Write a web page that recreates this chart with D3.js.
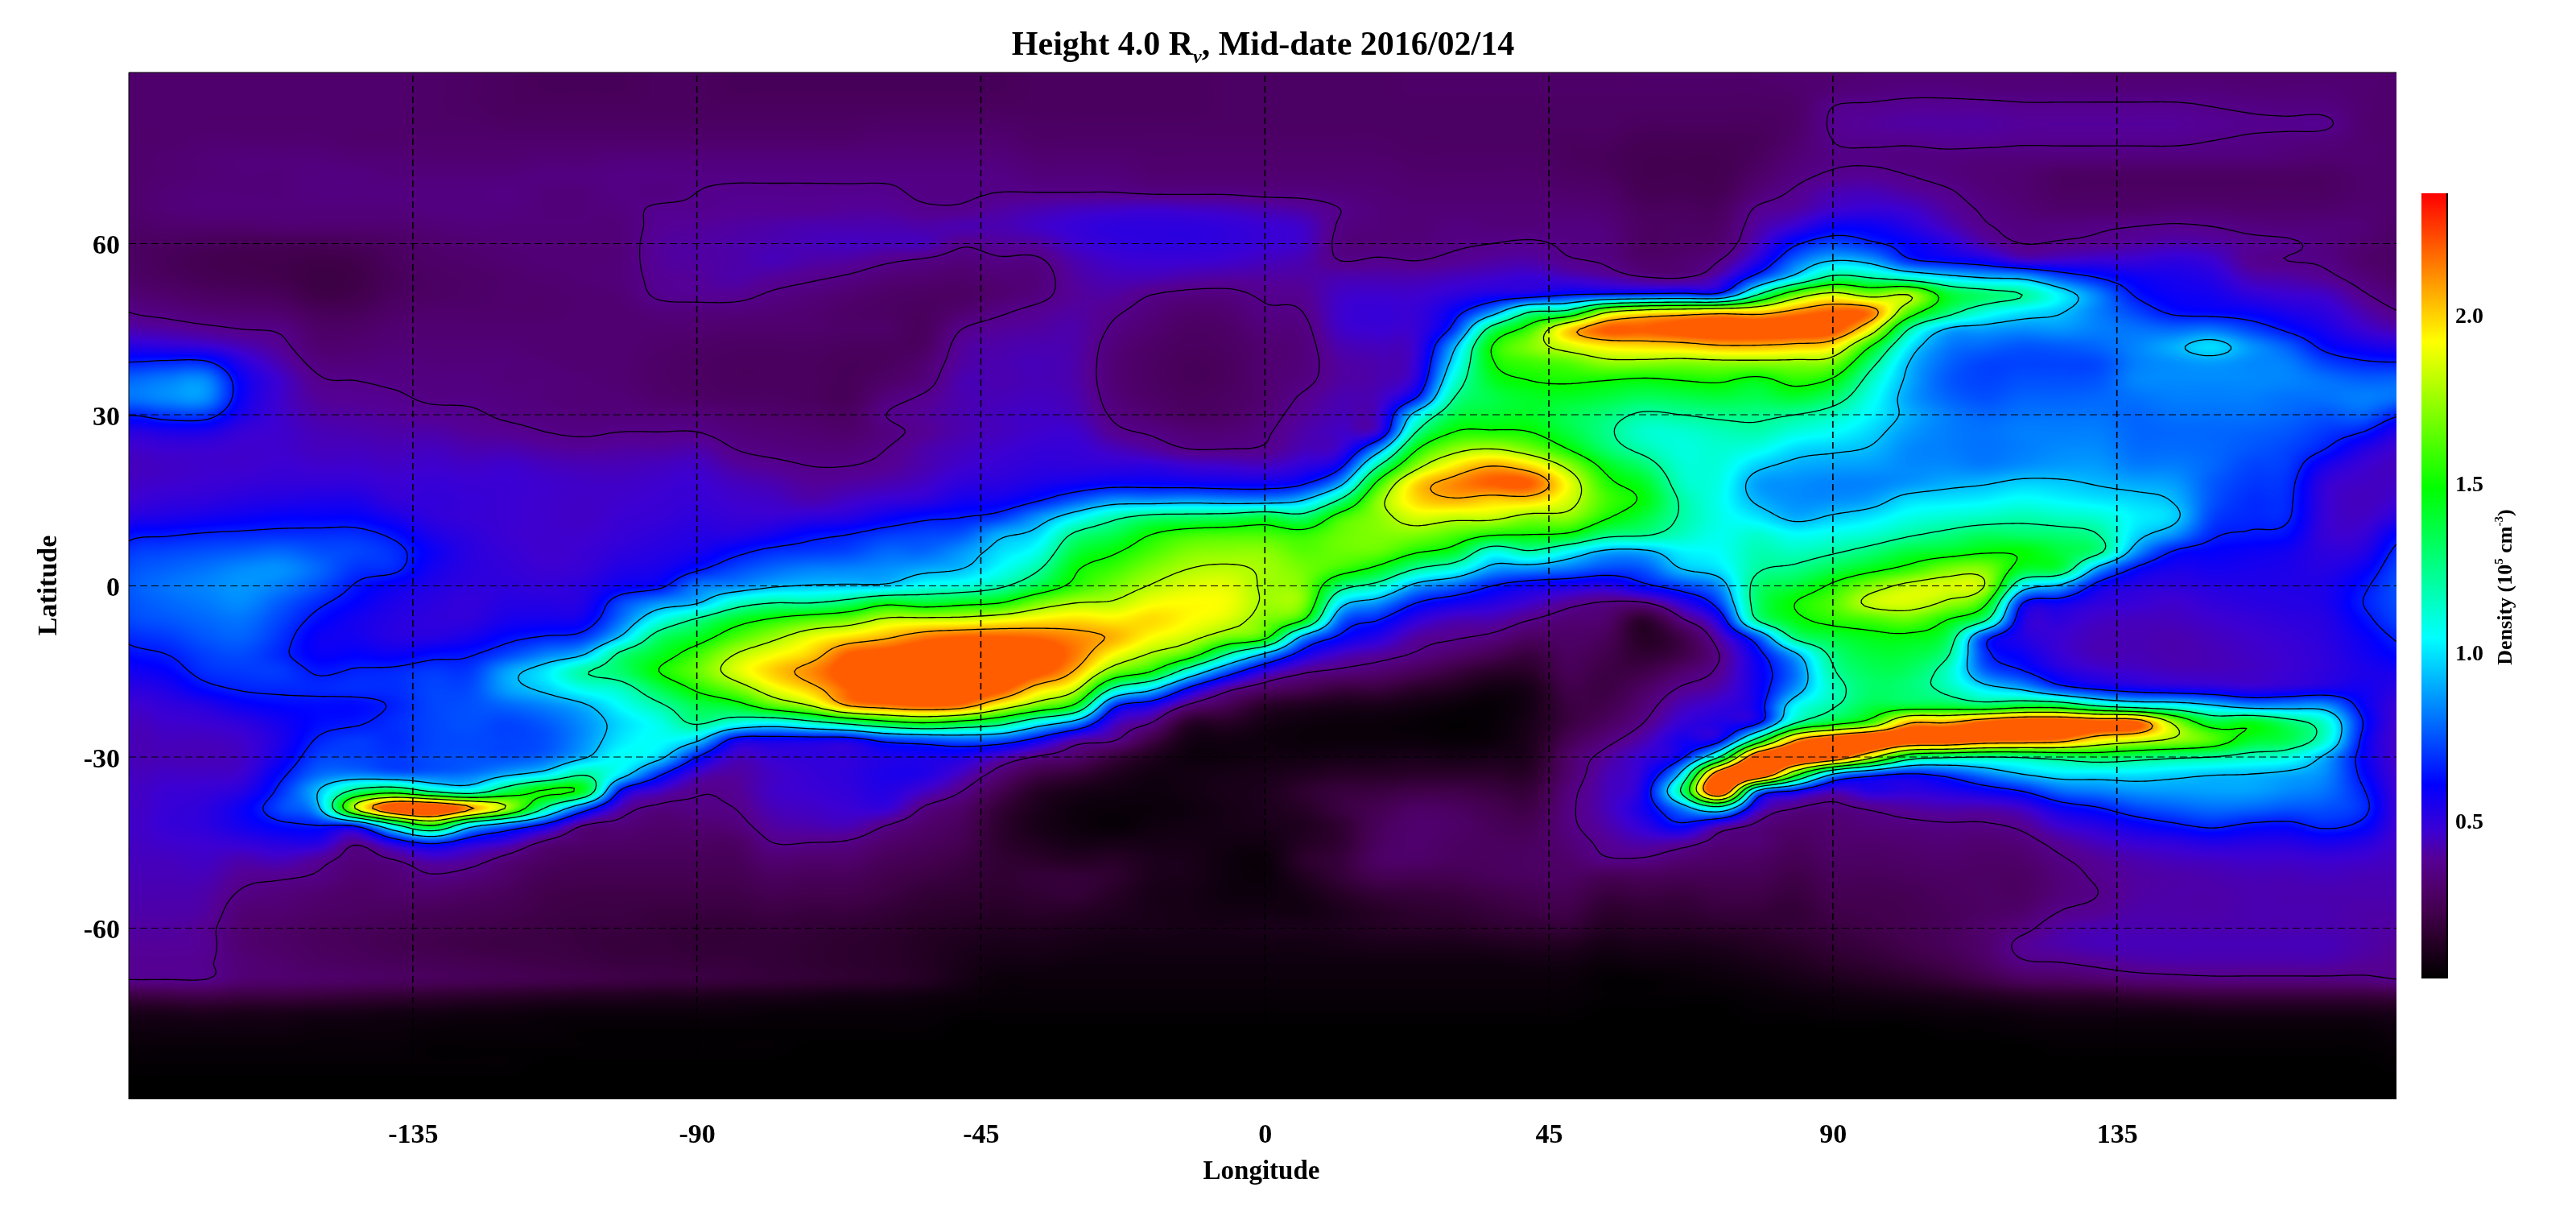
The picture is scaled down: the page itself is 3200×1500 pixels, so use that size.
<!DOCTYPE html>
<html>
<head>
<meta charset="utf-8">
<script src="https://cdn.jsdelivr.net/npm/d3@7"></script>
<style>
html,body{margin:0;padding:0;background:#fff;}
#wrap{position:relative;width:3200px;height:1500px;overflow:hidden;background:#fff;}
canvas,svg{position:absolute;left:0;top:0;}
text{font-family:"Liberation Serif",serif;font-weight:bold;fill:#000;}
</style>
</head>
<body>
<div id="wrap"><canvas id="heat"></canvas><svg id="chart" width="3200" height="1500"></svg></div>
<script>
// ---------- values ----------
const titleText = ["Height 4.0 R", "v", ", Mid-date 2016/02/14"];
const xAxisLabel = "Longitude";
const yAxisLabel = "Latitude";
const lonTicks = [-135,-90,-45,0,45,90,135];
const latTicks = [-60,-30,0,30,60];
const barTicks = [0.5,1.0,1.5,2.0];
const contourLevels = [0.36,0.65,0.93,1.22,1.50,1.78,2.07];
const barDomain = [0.03,2.36];
const imageCap = 2.2;
const colorValues = [0.03,0.145,0.226,0.305,0.385,0.467,0.605,1.04,1.484,1.92,2.36];
const colorNames = ["rgb(0,0,0)","rgb(40,0,40)","rgb(65,0,75)","rgb(80,0,110)","rgb(85,0,150)","rgb(60,0,210)","rgb(0,0,255)","rgb(0,255,255)","rgb(0,255,0)","rgb(255,255,0)","rgb(255,0,0)"];
const gridLonStart = -180, gridLonStep = 6, gridLatStart = 90, gridLatStep = -3;
// density x 100, one array per longitude (-180 to 180 by 6), each from latitude 90 down to -90 by 3
const densityColumns = [
[30,30,30,30,30,30,30,30,30,29,28,28,29,32,36,42,52,66,78,80,66,52,46,44,45,47,52,62,69,73,75,74,72,67,62,56,51,47,45,44,44,45,46,46,46,45,44,43,42,41,40,39,38,36,20,10,7,5,4,3,3],
[30,30,30,30,30,31,31,32,32,30,27,26,27,30,34,40,50,68,82,84,70,54,47,45,46,49,54,64,72,77,80,78,75,70,65,60,54,49,46,44,43,45,47,48,48,46,44,43,42,41,40,39,38,36,21,10,7,5,4,3,3],
[30,30,30,30,31,32,32,33,33,30,26,24,25,28,32,38,48,68,84,85,70,54,47,46,47,50,56,66,74,80,83,81,78,75,71,68,62,52,47,44,43,45,48,50,50,47,45,43,41,40,38,38,37,36,22,11,7,5,4,3,3],
[30,30,30,30,31,33,33,33,33,30,25,23,24,27,31,36,43,52,58,58,54,48,46,46,48,52,58,67,76,84,86,84,80,77,73,70,66,58,50,46,45,47,52,58,56,49,42,38,35,32,31,31,32,31,20,10,7,5,4,3,3],
[30,30,30,30,31,33,33,33,33,31,25,23,23,26,30,35,38,42,46,46,46,46,46,47,49,53,60,68,78,85,82,76,72,69,67,70,67,61,56,54,56,62,68,72,62,52,44,37,33,31,29,29,30,30,20,10,7,5,4,3,3],
[30,30,30,30,31,33,34,34,33,31,25,22,21,22,26,29,31,34,37,39,41,43,44,46,49,54,60,68,74,78,74,67,62,58,59,64,67,62,62,66,71,78,93,90,65,52,39,35,31,29,27,27,28,29,19,9,6,5,4,3,3],
[30,30,30,30,30,32,34,34,33,31,26,23,22,23,26,29,31,33,36,38,40,42,44,46,49,54,60,68,72,69,64,60,56,56,60,66,68,62,64,70,72,82,128,180,68,38,33,31,29,28,26,26,27,28,18,9,6,5,4,3,3],
[30,30,30,30,30,32,33,34,33,31,28,27,26,27,29,31,32,34,35,37,39,41,43,45,47,49,55,63,68,67,58,54,52,52,58,67,68,66,68,68,70,78,140,230,115,55,36,32,30,27,25,24,26,27,17,8,6,5,4,3,3],
[29,29,29,29,30,31,33,34,34,32,30,29,28,28,30,31,32,33,34,35,38,41,44,46,48,49,50,54,58,56,53,51,50,52,62,70,72,72,72,72,73,78,120,235,150,68,43,35,30,26,24,23,25,26,16,8,5,4,4,3,3],
[28,28,28,29,30,31,33,34,34,33,31,30,29,29,30,31,32,33,34,35,37,39,42,45,47,48,48,50,51,51,50,49,50,55,64,70,73,74,74,73,74,80,110,210,102,55,40,33,28,25,23,22,24,25,15,7,5,4,4,3,3],
[27,27,27,28,30,31,33,35,34,33,32,31,30,30,30,31,32,33,33,34,35,38,42,46,47,47,47,47,48,49,50,52,55,62,72,88,88,78,72,72,74,90,135,175,80,47,33,29,26,24,22,21,23,24,14,7,5,4,4,3,3],
[26,26,27,28,30,32,34,33,33,33,32,32,31,30,30,31,31,32,33,33,34,36,40,44,46,46,46,46,46,47,49,52,56,66,82,100,96,83,76,74,78,100,152,120,60,34,28,25,23,22,21,21,22,23,13,6,5,4,3,3,3],
[26,26,27,28,30,32,34,33,33,33,32,32,32,31,31,31,31,31,32,32,33,35,39,43,45,45,45,46,47,48,51,53,58,70,92,120,108,91,85,85,91,120,142,75,36,30,26,24,22,21,20,20,21,22,12,6,4,4,3,3,3],
[26,26,27,28,30,33,35,35,34,33,33,33,33,32,31,31,31,31,31,32,33,36,40,43,45,46,47,48,50,53,58,72,80,95,126,130,115,105,98,100,105,100,62,42,33,29,26,24,22,21,20,19,20,21,12,6,4,4,3,3,3],
[27,27,27,28,30,33,35,34,37,38,39,39,38,37,33,31,30,29,29,30,33,36,40,44,46,47,48,50,52,55,62,85,107,130,142,150,135,119,108,105,97,68,45,34,30,28,26,24,22,20,19,19,20,20,11,6,4,4,3,3,3],
[27,27,27,28,30,33,35,36,37,39,40,40,39,38,33,31,29,28,28,29,33,36,41,45,47,48,50,52,55,63,80,92,125,142,158,165,153,135,124,96,65,45,37,35,31,28,26,24,22,20,18,18,19,20,11,6,4,4,3,3,3],
[26,26,27,28,30,33,35,37,38,40,41,41,41,38,33,30,28,27,27,28,31,33,36,40,44,46,48,52,62,72,84,113,142,160,178,185,168,142,110,60,45,40,38,36,33,28,26,24,22,20,18,18,19,19,10,6,4,4,3,3,3],
[26,26,27,28,30,33,35,37,38,41,42,43,39,35,32,30,28,27,27,28,30,32,34,38,42,45,48,56,68,78,91,122,153,174,190,200,188,162,105,58,48,45,45,43,40,36,31,27,24,21,19,18,18,18,10,5,4,4,3,3,3],
[26,26,27,28,30,33,35,37,38,42,43,41,37,33,31,30,28,27,27,27,29,31,33,36,39,42,50,62,70,82,94,122,162,188,200,212,202,178,115,58,50,48,47,45,42,36,30,26,23,20,18,17,17,17,9,5,4,3,3,3,3],
[26,26,27,28,30,33,35,37,39,42,44,40,35,31,29,29,27,26,26,26,28,30,33,36,40,45,52,65,72,83,95,130,168,197,220,225,220,207,128,58,50,50,49,47,43,35,30,26,23,20,17,16,16,16,8,5,4,3,3,3,3],
[26,26,27,29,31,33,35,37,39,42,43,37,32,29,28,29,27,27,29,33,36,34,36,38,42,48,58,70,78,85,96,145,182,205,225,230,230,215,142,70,54,54,52,48,36,30,26,23,21,18,16,15,15,15,8,5,4,3,3,3,3],
[26,26,27,29,31,33,35,35,37,41,43,35,31,28,27,27,28,31,33,37,39,38,41,42,45,50,63,72,78,89,107,140,184,215,230,232,232,220,150,74,55,53,45,35,30,27,24,21,18,16,14,13,13,13,7,5,4,3,3,3,3],
[26,26,27,29,31,33,35,35,37,42,37,33,30,28,31,36,39,40,42,42,42,42,44,46,50,56,65,75,86,93,110,145,185,220,230,232,230,215,142,78,54,44,36,29,26,24,21,19,17,15,13,11,10,9,6,4,3,3,3,3,3],
[26,26,27,29,31,33,35,36,40,42,39,35,32,31,35,39,41,42,42,43,44,44,46,48,51,57,70,90,98,105,119,150,190,220,230,232,225,190,130,75,44,32,24,18,16,16,17,17,16,14,12,10,8,6,5,4,3,3,3,3,3],
[27,27,27,28,29,31,33,36,42,45,40,35,33,34,38,40,42,43,43,44,45,46,48,50,54,64,85,98,108,120,136,168,195,218,228,225,200,168,105,60,35,22,14,11,10,12,15,18,17,15,12,10,8,6,5,4,3,3,3,3,3],
[27,27,27,28,29,31,33,36,44,48,46,42,40,39,40,41,41,41,41,42,43,46,48,50,57,75,102,125,138,148,155,178,198,212,215,205,182,145,85,42,30,18,10,7,7,9,13,18,18,14,11,9,7,6,5,4,3,3,3,3,3],
[27,27,27,28,29,31,33,36,45,50,49,46,43,40,37,35,33,32,32,33,35,38,44,50,60,85,118,135,148,158,168,180,195,205,192,168,120,70,47,37,20,12,8,6,5,9,14,16,14,12,10,8,7,6,5,4,3,3,3,3,3],
[27,27,27,28,29,30,31,35,46,50,50,47,43,36,33,31,29,28,28,29,31,35,40,50,60,85,128,150,160,170,179,190,198,192,176,150,98,55,36,22,12,8,7,6,7,9,11,11,10,10,10,8,7,6,5,4,3,3,3,3,3],
[27,27,27,28,29,30,31,35,45,50,50,47,41,34,30,28,27,26,26,27,28,32,36,47,59,87,130,158,170,178,186,192,192,183,160,110,62,34,15,9,7,8,8,7,8,9,10,10,9,9,9,8,7,6,5,4,3,3,3,3,3],
[28,28,28,28,29,30,31,35,44,49,49,46,40,34,31,29,28,27,27,28,29,32,36,46,58,85,132,160,172,180,187,190,185,168,122,75,40,25,14,8,7,9,10,9,9,8,7,7,7,8,9,8,7,6,5,4,3,3,3,3,3],
[28,28,28,28,29,30,31,34,42,47,47,44,40,37,35,33,31,31,31,31,33,35,37,45,58,85,138,160,172,176,176,176,170,155,90,50,30,15,9,7,8,10,11,11,10,8,6,6,7,8,10,8,7,6,5,4,3,3,3,3,3],
[28,28,28,28,29,30,31,34,40,45,45,42,40,38,36,34,33,33,34,37,39,41,43,50,63,93,130,156,163,168,170,170,150,88,58,38,25,12,7,6,8,12,16,14,12,13,15,12,9,8,10,8,7,6,5,4,3,3,3,3,3],
[28,28,28,28,29,30,31,33,36,35,34,36,42,45,46,45,42,40,40,42,43,45,48,62,88,125,158,166,166,158,130,100,78,62,45,34,20,10,6,6,9,14,19,20,17,17,19,18,14,11,11,9,7,6,5,4,3,3,3,3,3],
[28,28,28,28,29,30,31,32,33,33,33,37,42,46,48,47,44,42,42,44,46,50,85,122,155,172,172,170,165,145,115,85,65,52,40,31,20,10,6,6,9,14,20,24,26,27,28,24,18,14,13,10,7,6,5,4,3,3,3,3,3],
[29,29,28,28,28,29,30,31,32,32,33,36,42,46,48,48,48,49,52,65,100,122,148,172,198,198,185,170,152,122,88,65,50,40,35,26,15,8,5,6,10,15,22,28,30,30,29,24,19,16,14,10,7,6,5,4,3,3,3,3,3],
[29,29,28,28,28,29,30,31,32,34,35,38,44,50,60,70,90,100,110,122,135,150,172,195,212,205,182,162,142,110,78,57,43,37,30,20,12,6,4,5,9,15,22,27,29,28,27,24,20,17,14,10,7,6,5,4,3,3,3,3,3],
[29,29,28,28,28,29,30,31,32,33,36,40,46,55,85,130,150,148,142,136,140,152,178,207,220,200,182,152,110,88,65,52,42,34,25,15,8,5,5,6,10,15,20,24,26,27,27,26,22,19,16,11,7,6,5,4,3,3,3,3,3],
[29,29,28,28,28,29,30,31,32,33,37,41,48,58,122,158,170,158,150,142,142,150,168,198,220,200,172,150,120,85,58,46,36,28,20,15,10,9,10,11,12,15,19,22,25,27,28,27,24,21,17,12,8,6,5,4,3,3,3,3,3],
[29,29,28,28,27,27,28,30,32,34,35,37,45,65,130,198,185,162,152,142,135,138,150,174,190,185,172,147,105,80,55,39,32,29,27,25,22,20,20,24,29,30,33,34,34,32,30,28,25,22,18,12,8,6,5,4,3,3,3,3,3],
[29,29,28,28,27,26,27,29,31,33,34,35,42,68,175,220,195,172,150,138,128,125,130,145,155,160,152,128,90,73,52,35,30,26,23,21,21,23,27,33,39,42,43,43,41,38,35,25,20,16,13,9,6,4,4,3,3,3,3,3,3],
[30,29,28,27,25,24,24,25,27,28,28,30,37,70,190,220,198,172,147,133,120,113,118,130,142,147,138,124,90,75,62,35,16,14,17,22,28,32,36,42,48,52,56,56,50,42,35,26,21,17,14,10,7,4,4,3,3,3,3,3,3],
[30,29,28,27,25,24,24,25,27,28,29,31,36,72,195,225,200,170,150,135,122,112,110,112,115,120,120,115,102,93,72,50,34,22,22,30,37,43,48,55,62,98,124,82,62,40,31,25,20,17,14,10,7,5,4,3,3,3,3,3,3],
[30,29,28,27,25,24,24,25,27,29,31,36,45,72,200,230,205,172,152,138,125,116,112,110,108,107,108,107,105,100,85,72,55,42,36,38,42,48,53,60,122,225,235,110,45,33,29,25,22,19,15,11,8,6,4,3,3,3,3,3,3],
[30,29,28,27,26,27,29,32,37,40,44,52,72,122,200,230,205,172,145,135,125,118,108,96,88,91,100,112,117,120,128,130,122,75,60,57,57,58,62,130,230,240,90,50,34,32,28,25,22,19,16,13,10,7,5,4,3,3,3,3,3],
[31,30,29,29,30,32,34,37,40,48,63,78,100,166,212,230,202,172,155,140,122,110,98,90,85,85,90,105,115,125,138,150,145,126,90,80,85,103,120,205,240,160,62,36,30,27,25,22,20,18,18,15,12,9,6,4,3,3,3,3,3],
[31,32,36,37,36,35,37,42,46,58,72,93,128,185,220,225,195,168,147,130,115,105,95,88,83,85,95,108,120,135,153,162,155,138,126,120,115,120,142,228,228,93,45,34,31,30,28,26,24,22,20,18,15,11,7,5,3,3,3,3,3],
[32,33,37,39,37,35,38,43,48,58,67,88,122,172,215,190,150,128,115,108,103,97,92,87,83,88,100,112,128,145,170,182,160,145,138,133,130,136,160,240,185,72,52,37,33,30,28,26,24,23,22,20,17,13,8,5,3,3,3,3,3],
[32,34,38,40,37,34,36,40,46,52,60,68,112,178,162,122,102,93,90,88,90,87,84,84,86,98,108,120,138,155,182,185,165,146,138,132,128,138,205,232,135,64,50,40,34,31,29,27,25,24,24,23,20,15,9,5,3,3,3,3,3],
[32,34,38,40,38,34,34,37,40,44,52,62,100,142,130,92,82,78,76,78,82,82,82,84,90,100,112,126,142,168,185,175,150,135,125,115,118,138,207,232,125,70,53,42,35,32,30,28,27,26,26,26,23,18,10,6,4,3,3,3,3],
[32,33,38,40,38,33,32,33,35,37,42,57,93,130,110,88,78,72,72,74,78,80,80,82,92,102,115,132,148,170,178,155,125,72,70,78,100,133,222,222,122,82,58,42,35,31,29,28,28,28,30,30,28,22,12,6,4,3,3,3,3],
[32,33,37,39,37,33,31,31,32,34,36,47,90,122,100,85,75,72,74,77,80,82,82,85,96,106,118,130,148,142,105,66,55,53,58,66,90,140,232,220,124,93,65,46,38,33,30,28,28,30,34,38,35,27,14,7,5,3,3,3,3],
[32,33,37,39,37,33,28,28,30,34,37,47,75,102,94,86,76,72,74,77,80,82,84,87,95,103,115,128,138,136,90,58,50,47,48,54,72,138,232,215,130,100,78,58,47,39,35,33,33,36,40,41,36,28,15,8,5,4,3,3,3],
[31,33,37,39,37,33,28,28,30,35,38,48,65,82,82,82,78,73,75,78,80,82,84,87,92,100,112,122,126,88,60,50,45,43,43,48,63,120,225,195,135,100,82,64,52,44,39,37,36,38,42,43,38,30,15,8,5,4,3,3,3],
[31,33,37,39,37,33,28,28,30,36,40,48,58,64,72,80,83,82,83,80,78,78,79,82,89,97,102,98,86,63,52,48,44,43,43,46,58,110,222,185,130,100,86,72,58,48,42,40,40,41,42,43,40,32,17,8,5,4,3,3,3],
[31,33,37,39,37,33,28,28,31,37,42,50,55,58,63,78,90,85,84,82,80,78,79,82,87,92,96,85,64,55,50,46,44,42,42,44,55,105,175,175,125,97,87,76,63,50,44,41,41,41,42,43,41,33,18,8,5,4,3,3,3],
[31,33,36,38,36,33,28,28,31,36,41,47,52,56,61,80,98,87,84,82,80,78,78,78,76,75,72,67,60,56,52,49,46,44,43,44,53,95,140,162,122,94,88,79,67,53,45,42,41,41,42,43,41,34,19,9,5,4,3,3,3],
[31,32,35,37,35,33,28,28,30,34,38,38,43,50,59,72,86,84,84,82,80,77,75,72,70,68,67,64,58,55,53,51,48,46,45,45,50,85,145,142,115,93,88,78,63,52,46,43,42,42,42,43,41,34,19,9,5,4,3,3,3],
[31,32,34,37,34,32,28,28,30,33,37,36,41,47,54,63,76,82,83,80,78,75,72,70,68,67,66,62,56,54,53,52,50,48,47,47,52,85,130,135,110,90,84,75,62,52,46,43,42,42,42,43,41,34,19,9,5,4,3,3,3],
[31,32,34,37,33,31,28,28,30,33,34,35,38,45,50,55,62,72,80,80,75,70,65,55,49,48,48,48,50,52,54,54,52,51,50,50,55,85,112,112,90,84,80,74,67,55,47,44,42,42,42,43,41,34,19,9,5,4,3,3,3],
[31,31,31,31,31,31,30,30,31,32,31,30,33,37,42,47,56,67,77,82,77,65,53,47,45,44,45,48,52,58,63,65,62,58,56,54,56,60,65,62,60,62,66,68,62,52,46,43,42,41,41,41,39,34,19,9,5,4,3,3,3],
[30,30,30,30,30,30,30,30,30,29,28,28,29,32,36,42,52,66,78,80,66,52,46,44,45,47,52,62,69,73,75,74,72,67,62,56,51,47,45,44,44,45,46,46,46,45,44,43,42,41,40,39,38,36,20,10,7,5,4,3,3]
];
densityColumns.forEach((c,i)=>{ if(c.length!==61) throw new Error("column "+i+" has "+c.length); });
if(densityColumns.length!==61) throw new Error("columns "+densityColumns.length);

// ---------- layout ----------
const plot = {left:160, top:90, right:2977, bottom:1365};
const x = d3.scaleLinear().domain([-180,179.3]).range([plot.left,plot.right]);
const y = d3.scaleLinear().domain([90,-90]).range([plot.top,plot.bottom]);
const barY = d3.scaleLinear().domain(barDomain).range([1215,240]);
const color = d3.scaleLinear().domain(colorValues).range(colorNames).clamp(true);

// ---------- smooth reading of the grid (Catmull-Rom) ----------
const nCols = densityColumns.length, nRows = densityColumns[0].length;
function cr(t){ const t2=t*t,t3=t2*t; return [(-t3+2*t2-t)/2,(3*t3-5*t2+2)/2,(-3*t3+4*t2+t)/2,(t3-t2)/2]; }
function sample(lon,lat){
  const u=(lon-gridLonStart)/gridLonStep, v=(lat-gridLatStart)/gridLatStep;
  const i=Math.floor(u), j=Math.floor(v);
  const wu=cr(u-i), wv=cr(v-j);
  let s=0;
  for(let a=0;a<4;a++){
    const ci=((i-1+a)%(nCols-1)+(nCols-1))%(nCols-1);
    const col=densityColumns[ci];
    for(let b=0;b<4;b++){
      const r=Math.max(0,Math.min(nRows-1,j-1+b));
      s+=wu[a]*wv[b]*col[r];
    }
  }
  return s/100;
}

// ---------- image ----------
const lutN=2048, lut=new Uint8Array(lutN*3);
for(let k=0;k<lutN;k++){ const c=d3.rgb(color(k/(lutN-1)*imageCap)); lut[3*k]=c.r; lut[3*k+1]=c.g; lut[3*k+2]=c.b; }
const W=plot.right-plot.left, H=plot.bottom-plot.top;
const cv=document.getElementById("heat");
cv.width=W; cv.height=H; cv.style.left=plot.left+"px"; cv.style.top=plot.top+"px";
const ctx=cv.getContext("2d");
const img=ctx.createImageData(W,H);
for(let py=0;py<H;py++){
  const lat=y.invert(plot.top+py+0.5);
  for(let px=0;px<W;px++){
    const lon=x.invert(plot.left+px+0.5);
    let val=sample(lon,lat);
    let k=Math.round(val/imageCap*(lutN-1)); if(k<0)k=0; if(k>=lutN)k=lutN-1;
    const o=4*(py*W+px);
    img.data[o]=lut[3*k]; img.data[o+1]=lut[3*k+1]; img.data[o+2]=lut[3*k+2]; img.data[o+3]=255;
  }
}
ctx.putImageData(img,0,0);

// ---------- svg ----------
const svg=d3.select("#chart");
const defs=svg.append("defs");
defs.append("clipPath").attr("id","plotClip").append("rect")
  .attr("x",plot.left).attr("y",plot.top).attr("width",W).attr("height",H);

// contours
const fineStep=0.5, nx=Math.round(360/fineStep)+1, ny=Math.round(180/fineStep)+1;
const fine=new Float64Array(nx*ny);
for(let j=0;j<ny;j++) for(let i=0;i<nx;i++) fine[j*nx+i]=sample(-180+i*fineStep,90-j*fineStep);
const contours=d3.contours().size([nx,ny]).thresholds(contourLevels)(fine);
const toScreen=d3.geoTransform({point(px,py){
  this.stream.point(x(-180+(px-0.5)*fineStep), y(90-(py-0.5)*fineStep));
}});
const path=d3.geoPath(toScreen);
svg.append("g").attr("clip-path","url(#plotClip)").selectAll("path").data(contours).join("path")
  .attr("d",path).attr("fill","none").attr("stroke","#000").attr("stroke-width",1.3);

// grid
const grid=svg.append("g").attr("clip-path","url(#plotClip)");
grid.selectAll("line.v").data(lonTicks).join("line").attr("class","v")
  .attr("x1",d=>x(d)).attr("x2",d=>x(d)).attr("y1",plot.top+4).attr("y2",plot.bottom)
  .attr("stroke","#000").attr("stroke-width",1.6).attr("stroke-dasharray","8,5");
grid.selectAll("line.h").data(latTicks).join("line").attr("class","h")
  .attr("x1",plot.left).attr("x2",plot.right).attr("y1",d=>y(d)).attr("y2",d=>y(d))
  .attr("stroke","#000").attr("stroke-width",1).attr("stroke-dasharray","9,5");

// frame
svg.append("path").attr("d",`M${plot.left},${plot.bottom}V${plot.top}H${plot.right}`)
  .attr("fill","none").attr("stroke","#000").attr("stroke-width",1);

// axes
const xAxis=d3.axisBottom(x).tickValues(lonTicks).tickFormat(d=>String(d)).tickSize(0);
const gx=svg.append("g").attr("transform",`translate(0,${plot.bottom})`).call(xAxis);
gx.select(".domain").remove();
gx.selectAll("text").attr("y",54).attr("dy",0).attr("font-size",34).style("font-family",'"Liberation Serif",serif').style("font-weight","bold");
const yAxis=d3.axisLeft(y).tickValues(latTicks).tickFormat(d=>String(d)).tickSize(0);
const gy=svg.append("g").attr("transform",`translate(${plot.left-11},0)`).call(yAxis);
gy.select(".domain").remove();
gy.selectAll("text").attr("x",0).attr("dy",12).attr("font-size",34).style("font-family",'"Liberation Serif",serif').style("font-weight","bold");

svg.append("text").attr("x",1567).attr("y",1464).attr("text-anchor","middle").attr("font-size",33).text(xAxisLabel);
svg.append("text").attr("transform","translate(70,727) rotate(-90)").attr("text-anchor","middle").attr("font-size",34).text(yAxisLabel);

// title
const t=svg.append("text").attr("x",1569).attr("y",68).attr("text-anchor","middle").attr("font-size",42);
t.append("tspan").text(titleText[0]);
t.append("tspan").attr("dy",10).attr("font-size",24).attr("font-style","italic").text(titleText[1]);
t.append("tspan").attr("dy",-10).text(titleText[2]);

// colour bar
const grad=defs.append("linearGradient").attr("id","barGrad").attr("x1",0).attr("x2",0).attr("y1",1).attr("y2",0);
grad.selectAll("stop").data(colorValues).join("stop")
  .attr("offset",d=>(d-barDomain[0])/(barDomain[1]-barDomain[0]))
  .attr("stop-color",d=>color(d));
svg.append("rect").attr("x",3008).attr("y",barY(barDomain[1])).attr("width",31)
  .attr("height",barY(barDomain[0])-barY(barDomain[1])).attr("fill","url(#barGrad)");
svg.append("rect").attr("x",3039).attr("y",barY(barDomain[1])).attr("width",2)
  .attr("height",barY(barDomain[0])-barY(barDomain[1])).attr("fill","#000");
const barAxis=d3.axisRight(barY).tickValues(barTicks).tickFormat(d3.format(".1f")).tickSize(0);
const gb=svg.append("g").attr("transform","translate(3050,0)").call(barAxis);
gb.select(".domain").remove();
gb.selectAll("text").attr("x",0).attr("dy",10).attr("font-size",28).style("font-family",'"Liberation Serif",serif').style("font-weight","bold");
const bl=svg.append("text").attr("transform","translate(3120,729) rotate(-90)").attr("text-anchor","middle").attr("font-size",26);
bl.append("tspan").text("Density (10");
bl.append("tspan").attr("dy",-11).attr("font-size",15).text("5");
bl.append("tspan").attr("dy",11).text(" cm");
bl.append("tspan").attr("dy",-11).attr("font-size",15).text("-3");
bl.append("tspan").attr("dy",11).text(")");
</script>
</body>
</html>
